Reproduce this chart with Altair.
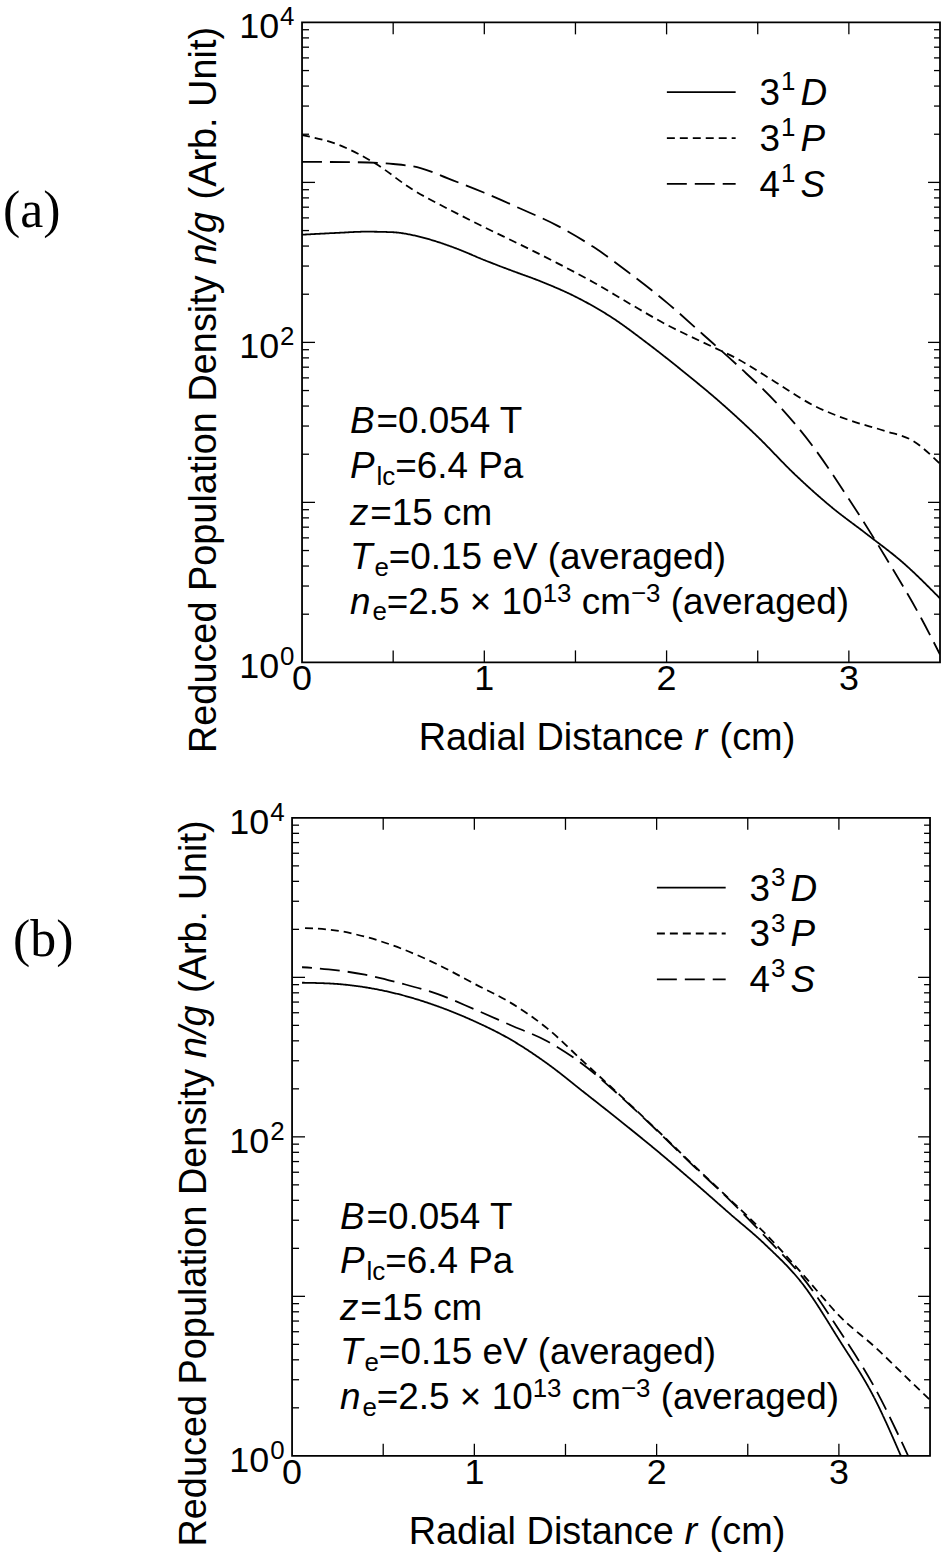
import altair as alt
import pandas as pd

FONT = "Liberation Sans"
SERIF = "Liberation Serif"

# ---------------- data ----------------
# panel (a): singlet levels
R_A_D = [0, 0.2, 0.35, 0.5, 0.6, 0.7, 0.85, 1.0, 1.15, 1.3, 1.5, 1.7, 1.9, 2.1, 2.3, 2.5, 2.7, 2.9, 3.1, 3.3, 3.5]
V_A_D = [471, 484, 492, 488, 470, 440, 385, 327, 281, 243, 193, 143, 97.7, 64.6, 41.7, 25.7, 15.1, 9.44, 6.31, 4.17, 2.51]
R_A_P = [0, 0.2, 0.4, 0.6, 0.8, 1.0, 1.2, 1.4, 1.6, 1.8, 2.0, 2.2, 2.4, 2.6, 2.8, 3.0, 3.2, 3.35, 3.5]
V_A_P = [1977, 1718, 1318, 912, 684, 525, 407, 313, 237, 174, 129, 100, 77.6, 56.2, 40.7, 32.7, 27.9, 24.3, 17.4]
R_A_S = [0, 0.3, 0.5, 0.65, 0.8, 1.0, 1.2, 1.4, 1.6, 1.8, 2.0, 2.2, 2.4, 2.6, 2.8, 3.0, 3.2, 3.4, 3.5]
V_A_S = [1343, 1337, 1303, 1230, 1059, 861, 684, 537, 394, 269, 178, 112, 70.0, 42.2, 22.6, 10.5, 4.57, 1.86, 1.12]

# panel (b): triplet levels
R_B_D = [0, 0.2, 0.4, 0.6, 0.8, 1.0, 1.2, 1.4, 1.6, 1.8, 2.0, 2.2, 2.4, 2.6, 2.8, 3.0, 3.2, 3.34]
V_B_D = [927, 916, 867, 776, 658, 531, 407, 288, 191, 126, 82.2, 52.5, 33.1, 20.9, 12.0, 5.37, 2.24, 1.0]
R_B_P = [0, 0.2, 0.4, 0.6, 0.8, 1.0, 1.2, 1.4, 1.6, 1.8, 2.0, 2.2, 2.4, 2.6, 2.8, 2.9, 3.0, 3.2, 3.4, 3.5]
V_B_P = [2046, 1995, 1799, 1514, 1202, 912, 692, 479, 295, 182, 111, 66.8, 40.7, 24.5, 13.8, 10.2, 7.59, 4.79, 2.88, 2.24]
R_B_S = [0, 0.2, 0.4, 0.6, 0.8, 1.0, 1.2, 1.4, 1.6, 1.8, 2.0, 2.2, 2.4, 2.6, 2.8, 3.0, 3.2, 3.38]
V_B_S = [1167, 1122, 1040, 916, 785, 631, 501, 398, 282, 180, 110, 66.1, 40.3, 23.4, 13.2, 6.17, 2.63, 1.0]

LEGEND_A = [("3", "1", "D"), ("3", "1", "P"), ("4", "1", "S")]
LEGEND_B = [("3", "3", "D"), ("3", "3", "P"), ("4", "3", "S")]

X_LABELS = [0, 1, 2, 3]
X_TICKS = [0.5, 1.0, 1.5, 2.0, 2.5, 3.0]
Y_LABEL_VALUES = [1, 100, 10000]
Y_LABEL_EXP = ["0", "2", "4"]
Y_MAJOR = [10, 100, 1000]
Y_MINOR = [m * d for d in [1, 10, 100, 1000] for m in [2, 3, 4, 5, 6, 7, 8, 9]]

DASHES = {"solid": [1, 0], "short": [8, 5], "long": [20, 8]}

# ---------------- helpers ----------------
W = {' ': 278, '(': 333, ')': 333, '.': 278, '/': 278, '=': 584, '×': 584, '−': 584,
     'A': 667, 'B': 667, 'D': 722, 'P': 667, 'R': 722, 'S': 667, 'T': 611, 'U': 722, 'V': 667,
     'a': 556, 'b': 556, 'c': 500, 'd': 556, 'e': 556, 'g': 556, 'i': 222, 'l': 222, 'm': 833,
     'n': 556, 'o': 556, 'p': 556, 'r': 333, 's': 500, 't': 278, 'u': 556, 'v': 500, 'y': 500, 'z': 500}


def tw(s, size):
    return sum(W.get(ch, 556) for ch in s) * size / 1000.0


def txt(text, x, y, size, italic=False, angle=0, align="left", font=FONT):
    props = dict(text=text, font=font, fontSize=size, align=align,
                 baseline="alphabetic", color="black")
    if italic:
        props["fontStyle"] = "italic"
    if angle:
        props["angle"] = angle
    return alt.Chart(alt.Data(values=[{}])).mark_text(**props).encode(
        x=alt.value(x), y=alt.value(y))


def lead(s, size):
    n = len(s) - len(s.lstrip(" "))
    return n * 278 * size / 1000.0


def rich(segs, x0, y0, size=37, small=26):
    layers = []
    off = 0.0
    for s, kind in segs:
        sz = small if kind in ("sub", "sup") else size
        shift = {"sub": 7, "sup": -12}.get(kind, 0)
        layers.append(txt(s.strip(" "), x0 + off + lead(s, sz), y0 + shift, sz,
                          italic=(kind == "i")))
        off += tw(s, sz) + (2 if kind == "i" else 0)
    return layers


def vrich(segs, x0, y0, size=38):
    layers = []
    off = 0.0
    for s, kind in segs:
        layers.append(txt(s.strip(" "), x0, y0 - off - lead(s, size), size,
                          italic=(kind == "i"), angle=270))
        off += tw(s, size) + (2 if kind == "i" else 0)
    return layers


YS = alt.Scale(type="log", domain=[1, 10000], nice=False)


def panel(series, legend, tag, tag_x, tag_y, W_, H_, ox):
    XS = alt.Scale(domain=[0, 3.5], nice=False, zero=False, range=[ox, ox + W_])
    layers = []
    # frame
    layers.append(alt.Chart(alt.Data(values=[{}])).mark_rect(
        filled=False, stroke="black", strokeWidth=1.8).encode(
        x=alt.value(ox), x2=alt.value(ox + W_), y=alt.value(0), y2=alt.value(H_)))
    # curves
    for r, v, dash in series:
        df = pd.DataFrame({"r": r, "v": v})
        layers.append(alt.Chart(df).mark_line(color="black", strokeWidth=1.8,
                                              strokeDash=DASHES[dash], interpolate="monotone",
                                              clip=True).encode(
            x=alt.X("r:Q", scale=XS, axis=None, title=None),
            y=alt.Y("v:Q", scale=YS, axis=None, title=None)))

    # inward ticks
    ymaj = pd.DataFrame({"t": Y_MAJOR})
    ymin = pd.DataFrame({"t": Y_MINOR})
    xt = pd.DataFrame({"t": X_TICKS})
    tk = dict(color="black", strokeWidth=1.3)
    yenc = alt.Y("t:Q", scale=YS, axis=None, title=None)
    xenc2 = alt.X("t:Q", scale=XS, axis=None, title=None)
    R = ox + W_
    layers += [
        alt.Chart(ymaj).mark_rule(**tk).encode(y=yenc, x=alt.value(ox), x2=alt.value(ox + 13)),
        alt.Chart(ymin).mark_rule(**tk).encode(y=yenc, x=alt.value(ox), x2=alt.value(ox + 7)),
        alt.Chart(ymaj).mark_rule(**tk).encode(y=yenc, x=alt.value(R), x2=alt.value(R - 12)),
        alt.Chart(ymin).mark_rule(**tk).encode(y=yenc, x=alt.value(R), x2=alt.value(R - 6)),
        alt.Chart(xt).mark_rule(**tk).encode(x=xenc2, y=alt.value(H_), y2=alt.value(H_ - 12)),
        alt.Chart(xt).mark_rule(**tk).encode(x=xenc2, y=alt.value(0), y2=alt.value(12)),
    ]

    # x tick labels
    xl = pd.DataFrame({"t": X_LABELS, "s": [str(v) for v in X_LABELS]})
    layers.append(alt.Chart(xl).mark_text(font=FONT, fontSize=36, align="center",
                                          baseline="alphabetic", color="black").encode(
        x=alt.X("t:Q", scale=XS, axis=None, title=None), y=alt.value(H_ + 28), text="s:N"))

    # y tick labels 10^n
    yl = pd.DataFrame({"v": Y_LABEL_VALUES, "b": ["10"] * 3, "e": Y_LABEL_EXP})
    layers += [
        alt.Chart(yl).mark_text(font=FONT, fontSize=36, align="right", baseline="alphabetic",
                                dy=16, color="black").encode(
            x=alt.value(ox - 23), y=alt.Y("v:Q", scale=YS, axis=None, title=None), text="b:N"),
        alt.Chart(yl).mark_text(font=FONT, fontSize=26, align="left", baseline="alphabetic",
                                dy=3, color="black").encode(
            x=alt.value(ox - 22), y=alt.Y("v:Q", scale=YS, axis=None, title=None), text="e:N"),
    ]

    # legend
    dashes = ["solid", "short", "long"]
    for i, (a, s, b) in enumerate(legend):
        base = 83 + 46 * i
        layers.append(alt.Chart(alt.Data(values=[{}])).mark_rule(
            color="black", strokeWidth=1.8, strokeDash=DASHES[dashes[i]]).encode(
            x=alt.value(ox + 366), x2=alt.value(ox + 435),
            y=alt.value(base - 13), y2=alt.value(base - 13)))
        x0 = ox + 459
        layers.append(txt(a, x0, base, 37))
        x1 = x0 + tw(a, 37) + 1
        layers.append(txt(s, x1, base - 15, 26))
        x2 = x1 + tw(s, 26) + 5
        layers.append(txt(b, x2, base, 37, italic=True))

    # annotation block
    ax = ox + 48
    layers += rich([("B", "i"), ("=0.054 T", "n")], ax, 412)
    layers += rich([("P", "i"), ("lc", "sub"), ("=6.4 Pa", "n")], ax, 457)
    layers += rich([("z", "i"), ("=15 cm", "n")], ax, 504)
    layers += rich([("T", "i"), ("e", "sub"), ("=0.15 eV (averaged)", "n")], ax, 548)
    layers += rich([("n", "i"), ("e", "sub"), ("=2.5 × 10", "n"), ("13", "sup"),
                    (" cm", "n"), ("−3", "sup"), (" (averaged)", "n")], ax, 593)

    # axis titles
    layers += rich([("Radial Distance ", "n"), ("r", "i"), (" (cm)", "n")], ox + 117, H_ + 88,
                   size=38)
    layers += vrich([("Reduced Population Density ", "n"), ("n/g", "i"),
                     (" (Arb. Unit)", "n")], ox - 86, H_ + 91, size=38)

    # panel tag
    layers.append(txt(tag, tag_x, tag_y, 52, font=SERIF))

    return alt.layer(*layers).properties(width=W_, height=H_)


pa = panel([(R_A_D, V_A_D, "solid"), (R_A_P, V_A_P, "short"), (R_A_S, V_A_S, "long")],
           LEGEND_A, "(a)", -300, 205, 640, 642, 0)
pb = panel([(R_B_D, V_B_D, "solid"), (R_B_P, V_B_P, "short"), (R_B_S, V_B_S, "long")],
           LEGEND_B, "(b)", -290, 139, 640, 640, -10)

chart = alt.vconcat(pa, pb, spacing=42).properties(
    padding={"left": 3, "top": 2, "right": 0, "bottom": 0},
    background="white",
).configure_view(strokeWidth=0)

chart.save("out.html", embed_options={"renderer": "svg", "actions": False})
